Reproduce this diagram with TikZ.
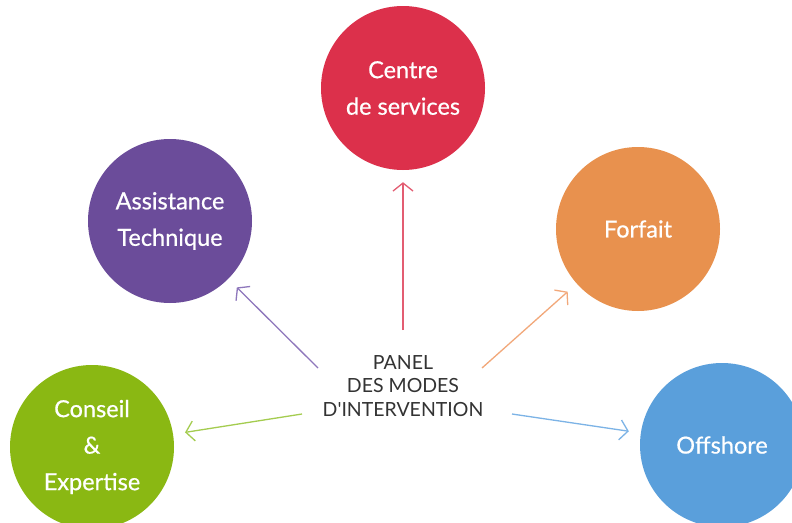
\documentclass[tikz,border=0pt]{standalone}
\usepackage{fontspec}
\setmainfont{Lato}
\newfontfamily\bubblefont[FakeBold=0.6]{Lato}
\newfontfamily\panelfont[Ligatures=TeXOff]{Lato}
\usetikzlibrary{arrows.meta}
\definecolor{cred}{HTML}{DC304B}
\definecolor{cpurple}{HTML}{6B4C9A}
\definecolor{corange}{HTML}{E8914E}
\definecolor{cgreen}{HTML}{8AB813}
\definecolor{cblue}{HTML}{5A9FDB}
\definecolor{ared}{HTML}{E35D72}
\definecolor{apurple}{HTML}{8E77BC}
\definecolor{aorange}{HTML}{F2A87A}
\definecolor{agreen}{HTML}{A4CC4F}
\definecolor{ablue}{HTML}{7CB3E6}
\definecolor{ctext}{HTML}{333333}
\tikzset{
  bubble/.style={circle, minimum size=164pt, inner sep=0pt, text=white, align=center,
    font=\bubblefont\fontsize{23.5}{36.5}\selectfont},
  arr/.style={line width=1.3pt, -{Straight Barb[length=8pt,width=20pt]}, shorten >=12pt},
}
\begin{document}
\begin{tikzpicture}[x=1pt,y=-1pt]
\useasboundingbox (0,0) rectangle (792,522);
\fill[white] (0,0) rectangle (792,522);
\node[bubble, fill=cred] (centre) at (403,88) {Centre\\de services};
\node[bubble, fill=cpurple] (assist) at (170,221) {Assistance\\Technique};
\node[bubble, fill=corange] (forfait) at (638,229) {Forfait};
\node[bubble, fill=cgreen] (conseil) at (92,447) {Conseil\\\&\\Expertise};
\node[bubble, fill=cblue] (offshore) at (722,445) {Offshore};
\node[text=ctext, align=center, font=\panelfont\fontsize{19.5}{23.5}\selectfont] (panel) at (403,386)
  {PANEL\\DES MODES\\D'INTERVENTION};
\coordinate (sr) at (403,330);
\coordinate (sp) at (318,368);
\coordinate (so) at (482,368);
\coordinate (sb) at (512,414);
\coordinate (sg) at (302,414);
\draw[arr, ared] (sr) -- (centre);
\draw[arr, apurple] (sp) -- (assist);
\draw[arr, aorange] (so) -- (forfait);
\draw[arr, ablue] (sb) -- (offshore);
\draw[arr, agreen] (sg) -- (conseil);
\end{tikzpicture}
\end{document}
